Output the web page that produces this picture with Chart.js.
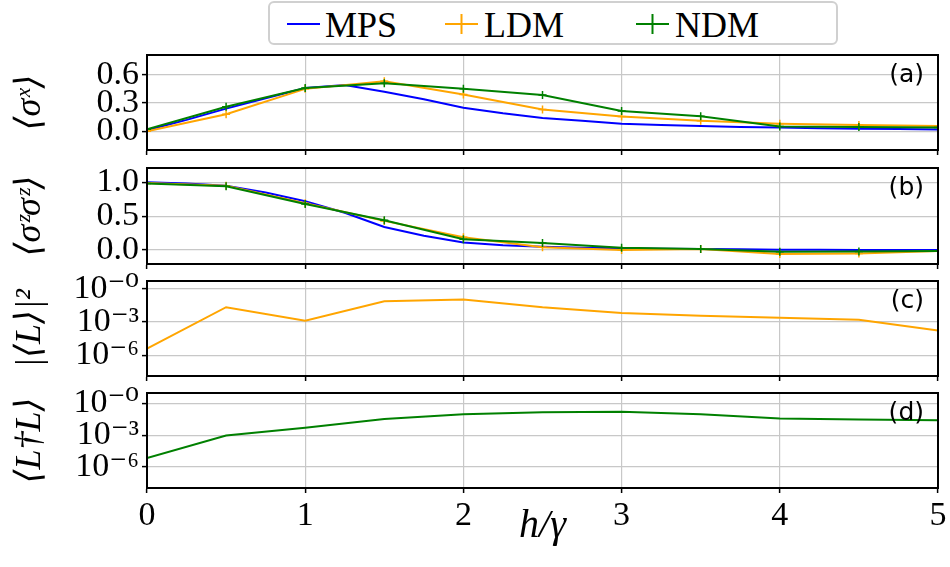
<!DOCTYPE html>
<html>
<head>
<meta charset="utf-8">
<script src="https://cdn.jsdelivr.net/npm/chart.js@4.4.1/dist/chart.umd.min.js"></script>
<style>
  body { margin: 0; background: #fff; }
  #wrap { position: relative; width: 950px; height: 567px; overflow: hidden; }
  canvas { position: absolute; left: 0; }
  #legend { position: absolute; left: 0; top: 0; }
</style>
</head>
<body>
<div id="wrap">
  <svg id="legend" width="950" height="48">
    <rect x="269" y="2" width="568" height="42" rx="5" fill="#fff" stroke="#d0d0d0" stroke-width="2"/>
    <line x1="287" y1="24" x2="320" y2="24" stroke="#0000ff" stroke-width="2"/>
    <line x1="445" y1="24" x2="478" y2="24" stroke="#ffa500" stroke-width="2"/>
    <line x1="461.5" y1="14" x2="461.5" y2="34" stroke="#ffa500" stroke-width="2"/>
    <line x1="636" y1="24" x2="669" y2="24" stroke="#008000" stroke-width="2"/>
    <line x1="652.5" y1="14" x2="652.5" y2="34" stroke="#008000" stroke-width="2"/>
    <g font-family="'Liberation Serif', serif" font-size="36" fill="#000">
      <text x="325" y="37">MPS</text>
      <text x="484" y="37">LDM</text>
      <text x="675" y="37">NDM</text>
    </g>
  </svg>
  <canvas id="pa" width="950" height="112" style="top:48px"></canvas>
  <canvas id="pb" width="950" height="110" style="top:160px"></canvas>
  <canvas id="pc" width="950" height="112" style="top:270px"></canvas>
  <canvas id="pd" width="950" height="185" style="top:382px"></canvas>
</div>
<script>
// h/gamma grid
const xs = [0, 0.5, 1, 1.5, 2, 2.5, 3, 3.5, 4, 4.5, 5];
const xsMps = [0, 0.25, 0.5, 0.75, 1, 1.25, 1.5, 1.75, 2, 2.25, 2.5, 2.75, 3, 3.25, 3.5, 3.75, 4, 4.25, 4.5, 4.75, 5];

// (a) <sigma^x>
const mpsSx = [0.01, 0.12, 0.24, 0.35, 0.46, 0.49, 0.42, 0.34, 0.25, 0.19, 0.14, 0.11, 0.078, 0.065, 0.055, 0.045, 0.038, 0.032, 0.027, 0.022, 0.018];
const ldmSx = [0.0, 0.18, 0.45, 0.53, 0.39, 0.23, 0.155, 0.11, 0.08, 0.065, 0.056];
const ndmSx = [0.02, 0.26, 0.46, 0.51, 0.45, 0.385, 0.215, 0.16, 0.05, 0.045, 0.04];

// (b) <sigma^z sigma^z>
const mpsZz = [1.0, 0.98, 0.95, 0.85, 0.72, 0.55, 0.34, 0.21, 0.11, 0.07, 0.05, 0.035, 0.025, 0.02, 0.015, 0.01, 0.005, 0.003, 0.002, 0.001, 0.0];
const ldmZz = [0.99, 0.95, 0.69, 0.43, 0.19, 0.04, 0.0, 0.015, -0.06, -0.05, -0.015];
const ndmZz = [0.98, 0.94, 0.68, 0.44, 0.16, 0.105, 0.035, 0.015, -0.025, -0.02, -0.015];

// (c) |<L>|^2, LDM
const ldmL2 = [4e-6, 2.2e-2, 1.35e-3, 7.6e-2, 0.11, 2.2e-2, 6.6e-3, 3.8e-3, 2.5e-3, 1.6e-3, 1.7e-4];
// (d) <L^dagger L>, NDM
const ndmLL = [7e-6, 9.3e-4, 5e-3, 3.5e-2, 9.8e-2, 0.15, 0.17, 9.8e-2, 3.8e-2, 3.1e-2, 2.6e-2];

const xTicks = [0, 1, 2, 3, 4, 5];
const sxTicks = [0, 0.3, 0.6];
const zzTicks = [0, 0.5, 1.0];
const logTicks = [1e-6, 1e-3, 1];
const logLabels = ['10⁻⁶', '10⁻³', '10⁻⁰'];

const serif = "'Liberation Serif', 'DejaVu Serif', serif";
const BLUE = '#0000ff', ORANGE = '#ffa500', GREEN = '#008000';

function pts(x, y) {
  return x.map((v, i) => ({ x: v, y: y[i] }));
}

function series(x, y, color, order, marker) {
  return {
    data: pts(x, y),
    borderColor: color,
    backgroundColor: color,
    borderWidth: 2,
    order: order,
    pointStyle: 'cross',
    pointRadius: marker ? 4 : 0,
    pointBorderWidth: 1.5,
    pointBorderColor: color
  };
}

// box around the axes + panel tag
const frame = {
  id: 'frame',
  afterDraw(chart, args, opts) {
    const { ctx, chartArea: a } = chart;
    ctx.save();
    ctx.strokeStyle = '#000';
    ctx.lineWidth = 2;
    ctx.strokeRect(a.left, a.top, a.right - a.left, a.bottom - a.top);
    ctx.font = "25px 'DejaVu Sans'";
    ctx.fillStyle = '#000';
    ctx.textAlign = 'right';
    ctx.textBaseline = 'top';
    ctx.fillText(opts.text, a.right - 14, a.top + 8);
    ctx.restore();
  }
};

const grid = { color: '#c8c8c8', lineWidth: 1.2, tickColor: '#000', tickLength: 5, tickWidth: 1.5 };
const border = { color: '#000', width: 2 };

function yAxis(type, min, max, ticks, fmt, title) {
  return {
    type, min, max,
    afterBuildTicks: s => { s.ticks = ticks.map(v => ({ value: v })); },
    afterFit: s => { s.width = 147; s.paddingTop = 0; s.paddingBottom = 0; },
    ticks: { callback: fmt, font: { family: serif, size: 34 }, color: '#000', padding: 3, autoSkip: false },
    grid, border,
    title: { display: true, text: title, color: '#000', font: { family: serif, size: 36, style: 'italic' }, padding: { top: 9, bottom: 0 } }
  };
}

function panel(id, datasets, y, o) {
  return new Chart(document.getElementById(id), {
    type: 'line',
    data: { datasets },
    plugins: [frame],
    options: {
      responsive: false,
      animation: false,
      devicePixelRatio: 1,
      layout: { padding: { top: o.top, right: 12, left: 0, bottom: 0 } },
      plugins: { legend: { display: false }, tooltip: { enabled: false }, frame: { text: o.tag } },
      elements: { line: { tension: 0 } },
      scales: {
        x: {
          type: 'linear', min: 0, max: 5,
          afterBuildTicks: s => { s.ticks = xTicks.map(v => ({ value: v })); },
          afterFit: s => { s.height = o.xh; s.paddingLeft = 0; s.paddingRight = 0; },
          grid, border,
          ticks: { display: o.last, font: { family: serif, size: 34 }, color: '#000', padding: 3 },
          title: { display: o.last, text: 'h/γ', color: '#000', font: { family: serif, size: 40, style: 'italic' }, padding: { top: 0, bottom: 17 } }
        },
        y: y
      }
    }
  });
}

panel('pa', [
  series(xsMps, mpsSx, BLUE, 3, false),
  series(xs, ldmSx, ORANGE, 2, true),
  series(xs, ndmSx, GREEN, 1, true)
], yAxis('linear', -0.2, 0.81, sxTicks, v => v.toFixed(1), '⟨σˣ⟩'), { top: 7, xh: 10, tag: '(a)', last: false });

panel('pb', [
  series(xsMps, mpsZz, BLUE, 3, false),
  series(xs, ldmZz, ORANGE, 2, true),
  series(xs, ndmZz, GREEN, 1, true)
], yAxis('linear', -0.206, 1.21, zzTicks, v => v.toFixed(1), '⟨σᶻσᶻ⟩'), { top: 8, xh: 6, tag: '(b)', last: false });

panel('pc', [
  series(xs, ldmL2, ORANGE, 2, false)
], yAxis('logarithmic', 1.4e-8, 5, logTicks, (v, i) => logLabels[i], '|⟨L⟩|²'), { top: 11, xh: 6, tag: '(c)', last: false });

panel('pd', [
  series(xs, ndmLL, GREEN, 1, false)
], yAxis('logarithmic', 1e-8, 10, logTicks, (v, i) => logLabels[i], '⟨L†L⟩'), { top: 11, xh: 79, tag: '(d)', last: true });
</script>
</body>
</html>
